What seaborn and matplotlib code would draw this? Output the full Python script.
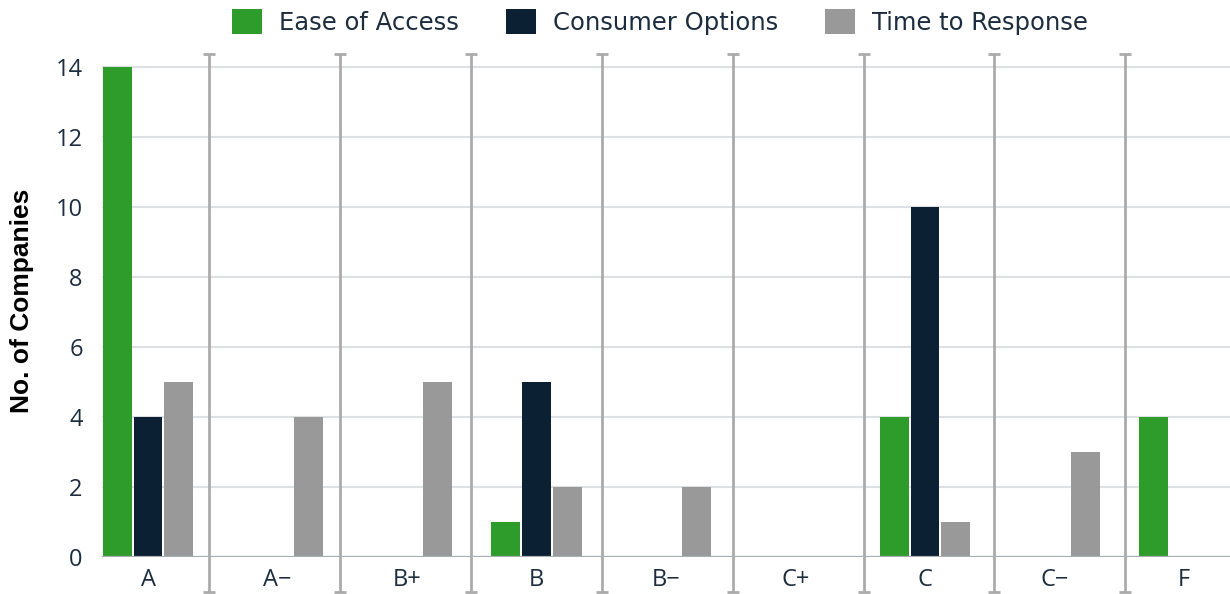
import matplotlib
matplotlib.use("Agg")
import matplotlib.pyplot as plt
import matplotlib.patches as mpatches
import seaborn as sns
import pandas as pd

grades = ["A", "A\u2212", "B+", "B", "B\u2212", "C+", "C", "C\u2212", "F"]
ease_of_access = [14, 0, 0, 1, 0, 0, 4, 0, 4]
consumer_options = [4, 0, 0, 5, 0, 0, 10, 0, 0]
time_to_response = [5, 4, 5, 2, 2, 0, 1, 3, 0]
series_names = ["Ease of Access", "Consumer Options", "Time to Response"]
series_colors = ["#2e9c2a", "#0b2033", "#999999"]
y_ticks = [0, 2, 4, 6, 8, 10, 12, 14]

sns.set_theme(style="white")
plt.rcParams["font.family"] = ["Open Sans", "DejaVu Sans"]

rows = []
for name, vals in zip(series_names, [ease_of_access, consumer_options, time_to_response]):
    for g, v in zip(grades, vals):
        rows.append({"Grade": g, "Metric": name, "Companies": v})
df = pd.DataFrame(rows)

fig = plt.figure(figsize=(12.3, 5.94), dpi=100)
ax = fig.add_axes([0.083, 0.0623, 0.917, 0.846])

sns.barplot(data=df, x="Grade", y="Companies", hue="Metric",
            order=grades, hue_order=series_names, palette=series_colors,
            saturation=1, width=0.71, gap=0.06, edgecolor="none", linewidth=0,
            legend=False, ax=ax)

ax.set_xlim(-0.355, 8.355)
ax.set_ylim(0, 14.35)
ax.set_yticks(y_ticks)
ax.yaxis.grid(True, color="#dde1e4", linewidth=1.5)
ax.set_axisbelow(True)
for s in ax.spines.values():
    s.set_visible(False)
ax.axhline(0, color="#a9aeb3", linewidth=1.6, zorder=3)

text_color = "#1c2d3f"
ax.tick_params(axis="y", length=0, pad=14, labelsize=17, labelcolor=text_color)
ax.tick_params(axis="x", length=0, pad=8, labelsize=17, labelcolor=text_color)
ax.set_xlabel("")
ax.set_ylabel("")
fig.text(22.5 / 1230, 1 - 301 / 594, "No. of Companies", rotation=90,
         ha="center", va="center", fontsize=19, fontweight="bold", color="black",
         family=["Liberation Sans", "DejaVu Sans"])

# Category separators with small end caps
sep_start, sep_step = 0.471, 1.0108
for k in range(len(grades) - 1):
    x = sep_start + k * sep_step
    ax.plot([x, x], [-1.0, 14.35], color="#ababab", linewidth=2, clip_on=False,
            zorder=2, solid_capstyle="butt")
    ax.plot([x, x], [-1.0, 14.35], linestyle="none", marker="_", markersize=9,
            markeredgewidth=2, color="#ababab", clip_on=False, zorder=2)

handles = [mpatches.Patch(facecolor=c, edgecolor="none", label=n)
           for n, c in zip(series_names, series_colors)]
leg = fig.legend(handles=handles, loc="center", bbox_to_anchor=(0.5366, 0.963), ncol=3,
                 frameon=False, handlelength=1.23, handleheight=1.23,
                 handletextpad=0.7, columnspacing=1.95, labelcolor=text_color,
                 prop={"family": ["DejaVu Sans"], "size": 17.5})

fig.savefig("out.png", dpi=100)
